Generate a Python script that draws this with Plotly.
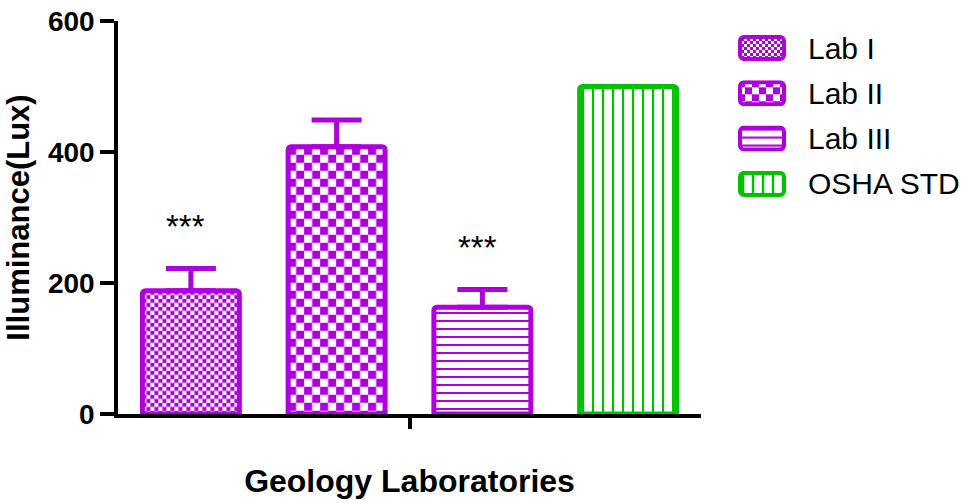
import base64
import plotly.graph_objects as go

# ---------------- data ----------------
categories = ["Lab I", "Lab II", "Lab III", "OSHA STD"]
means = [188, 408, 163, 500]
errors = [34, 41, 27, None]
sig_labels = ["***", "", "***", ""]
y_ticks = [0, 200, 400, 600]

# ---------------- style ----------------
PURPLE = "#AE00DC"
GREEN = "#00C300"
colors = [PURPLE, PURPLE, PURPLE, GREEN]
fills = ["checker4", "checker8", "hlines", "vlines"]

W_FIG, H_FIG = 967, 503
ML, MR, MT, MB = 118, 266, 21, 89
PW = W_FIG - ML - MR
PH = H_FIG - MT - MB
X_RANGE = [-0.5, 3.5]
Y_RANGE = [0, 600]
XS = PW / (X_RANGE[1] - X_RANGE[0])
YS = PH / (Y_RANGE[1] - Y_RANGE[0])
BAR_W = 0.665
FONT = "Liberation Sans, Arial, sans-serif"


def svg_uri(svg):
    return "data:image/svg+xml;base64," + base64.b64encode(svg.encode()).decode()


def checker_defs(s, color):
    return (f'<pattern id="p" width="{2*s}" height="{2*s}" patternUnits="userSpaceOnUse">'
            f'<rect width="{s}" height="{s}" fill="{color}"/>'
            f'<rect x="{s}" y="{s}" width="{s}" height="{s}" fill="{color}"/></pattern>')


def lines_defs(kind, period, thick, color):
    if kind == "h":
        return (f'<pattern id="p" width="{period}" height="{period}" patternUnits="userSpaceOnUse">'
                f'<rect y="{period/2 - thick/2}" width="{period}" height="{thick}" fill="{color}"/></pattern>')
    return (f'<pattern id="p" width="{period}" height="{period}" patternUnits="userSpaceOnUse">'
            f'<rect x="{period/2 - thick/2}" width="{thick}" height="{period}" fill="{color}"/></pattern>')


def fill_svg(w, h, defs):
    return (f'<svg xmlns="http://www.w3.org/2000/svg" width="{w:.2f}" height="{h:.2f}" '
            f'viewBox="0 0 {w:.2f} {h:.2f}" preserveAspectRatio="none"><defs>{defs}</defs>'
            f'<rect width="{w:.2f}" height="{h:.2f}" fill="white"/>'
            f'<rect width="{w:.2f}" height="{h:.2f}" fill="url(#p)"/></svg>')


def swatch_svg(w, h, defs, color):
    return (f'<svg xmlns="http://www.w3.org/2000/svg" width="{w}" height="{h}" '
            f'viewBox="0 0 {w} {h}" preserveAspectRatio="none"><defs>{defs}</defs>'
            f'<rect x="2" y="2" width="{w-4}" height="{h-4}" rx="4" ry="4" fill="white"/>'
            f'<rect x="2" y="2" width="{w-4}" height="{h-4}" rx="4" ry="4" fill="url(#p)" '
            f'stroke="{color}" stroke-width="4"/></svg>')


fig = go.Figure()
images = []
x_pos = list(range(len(categories)))

for i, (cat, m, e, col, fk) in enumerate(zip(categories, means, errors, colors, fills)):
    marker = dict(line=dict(color=col, width=5), cornerradius=3)
    if fk.startswith("checker"):
        marker["color"] = "rgba(0,0,0,0)"
        s = int(fk.replace("checker", ""))
        w_px, h_px = BAR_W * XS, m * YS
        images.append(dict(source=svg_uri(fill_svg(w_px, h_px, checker_defs(s, col))),
                           xref="x", yref="y", x=x_pos[i] - BAR_W / 2, y=m,
                           sizex=BAR_W, sizey=m, xanchor="left", yanchor="top",
                           sizing="stretch", layer="below"))
    elif fk == "hlines":
        marker["color"] = "white"
        marker["pattern"] = dict(shape="-", fgcolor=col, bgcolor="white", size=8,
                                 solidity=0.25, fillmode="overlay", fgopacity=1)
    else:
        marker["color"] = "white"
        marker["pattern"] = dict(shape="|", fgcolor=col, bgcolor="white", size=10,
                                 solidity=0.22, fillmode="overlay", fgopacity=1)
    err = dict(visible=False)
    if e is not None:
        err = dict(type="data", array=[e], arrayminus=[0], symmetric=False,
                   color=col, thickness=5, width=25, visible=True)
    fig.add_trace(go.Bar(x=[x_pos[i]], y=[m], name=cat, width=BAR_W, marker=marker,
                         error_y=err, showlegend=False))

# significance stars
annotations = []
for i, (m, e, lab) in enumerate(zip(means, errors, sig_labels)):
    if lab:
        annotations.append(dict(x=x_pos[i], y=m + (e or 0), xref="x", yref="y", text=lab,
                                showarrow=False, yanchor="middle", yshift=42, xshift=-5,
                                font=dict(family=FONT, size=33, color="black")))

# manual legend
LEG_X0, LEG_Y0, LEG_STEP = 738, 35, 45.3
SW_W, SW_H = 48, 26
legend_defs = [checker_defs(3, PURPLE), checker_defs(7, PURPLE),
               lines_defs("h", 8, 2, PURPLE), lines_defs("v", 10, 2.4, GREEN)]
for k, (cat, col) in enumerate(zip(categories, colors)):
    top = LEG_Y0 + k * LEG_STEP
    images.append(dict(source=svg_uri(swatch_svg(SW_W, SW_H, legend_defs[k], col)),
                       xref="paper", yref="paper",
                       x=(LEG_X0 - ML) / PW, y=(MT + PH - top) / PH,
                       sizex=SW_W / PW, sizey=SW_H / PH, xanchor="left", yanchor="top",
                       sizing="stretch", layer="above"))
    annotations.append(dict(x=(806 - ML) / PW, y=(MT + PH - (top + SW_H / 2)) / PH,
                            xref="paper", yref="paper", text=cat, showarrow=False,
                            xanchor="left", yanchor="middle",
                            font=dict(family=FONT, size=30, color="black")))

fig.update_layout(
    width=W_FIG, height=H_FIG,
    margin=dict(l=ML, r=MR, t=MT, b=MB, autoexpand=False),
    paper_bgcolor="white", plot_bgcolor="white",
    barmode="overlay",
    showlegend=False,
    images=images,
    annotations=annotations,
    font=dict(family=FONT, color="black"),
    xaxis=dict(range=X_RANGE, showline=True, linecolor="black", linewidth=3.5,
               ticks="outside", tickvals=[1.5], ticktext=[""], ticklen=11,
               tickwidth=3.5, tickcolor="black", showgrid=False, zeroline=False,
               title=dict(text="<b>Geology Laboratories</b>", standoff=40,
                          font=dict(family=FONT, size=32, color="black"))),
    yaxis=dict(range=Y_RANGE, showline=True, linecolor="black", linewidth=3.5,
               ticks="outside", tickvals=y_ticks, ticktext=[f"<b>{v}</b>" for v in y_ticks],
               ticklen=14, tickwidth=3.5, tickcolor="black", showgrid=False, zeroline=False,
               tickfont=dict(family=FONT, size=28, color="black"),
               title=dict(text="<b>Illuminance(Lux)</b>", standoff=10,
                          font=dict(family=FONT, size=31, color="black"))),
)

fig.write_html("out.html")
